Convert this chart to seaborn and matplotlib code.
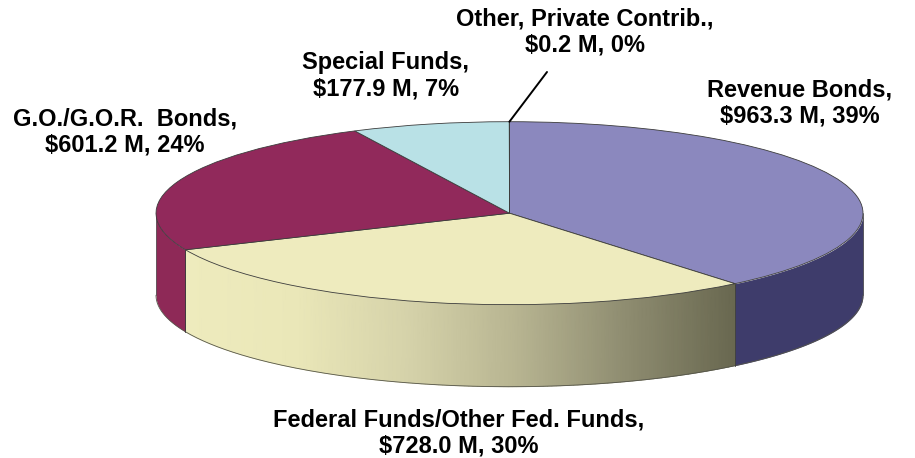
# %% import libraries
import numpy as np
import seaborn as sns
import matplotlib.pyplot as plt

# %% data
sources = ["Revenue Bonds", "Federal Funds", "G.O./G.O.R. Bonds", "Special Funds", "Other"]
amounts = [963.3, 728.0, 601.2, 177.9, 0.2]
labels = [
    "Revenue Bonds,\n$963.3 M, 39%",
    "Federal Funds/Other Fed. Funds,\n$728.0 M, 30%",
    "G.O./G.O.R.  Bonds,\n$601.2 M, 24%",
    "Special Funds,\n$177.9 M, 7%",
    "Other, Private Contrib.,\n$0.2 M, 0%",
]
label_x = [800, 459, 125, 386, 585]
label_y = [103, 433, 132, 76, 32]
top_colors = ["#8B88BE", "#EEEBBE", "#91295B", "#B9E1E6", "#7F7DB5"]
side_colors = ["#3E3C6B", "#EDEABB", "#8E2957", "#8FB4BA", "#3E3C6B"]
fed_gradient = ["#EEEBBD", "#EAE7B8", "#D6D3AA", "#B8B592", "#8F8D71", "#696850"]

W, H = 915, 458
depth = 82 / 91.5

# %% figure
sns.set_theme(style="white")
plt.rcParams["font.family"] = ["Liberation Sans", "DejaVu Sans"]

fig = plt.figure(figsize=(W / 100, H / 100), dpi=100, facecolor="white")
ax = fig.add_axes([156 / W, 1 - 304.7 / H, 707 / W, 183 / H])

# %% top of the pie
wedges, _ = ax.pie(
    amounts,
    colors=top_colors,
    startangle=90,
    counterclock=False,
    radius=1,
    wedgeprops={"edgecolor": "#3c3c3c", "linewidth": 0.6, "zorder": 3, "clip_on": False},
)
ax.set_aspect("auto")
ax.set_xlim(-1, 1)
ax.set_ylim(-1, 1)

# %% side wall, only the part facing the viewer
edges = 90 - np.cumsum([0] + amounts) / sum(amounts) * 360
for i in range(len(amounts)):
    hi, lo = edges[i], edges[i + 1]
    # keep the lower half of the ellipse
    hi_v, lo_v = min(hi, 0), max(lo, -180)
    if hi_v <= lo_v:
        continue
    t = np.radians(np.linspace(hi_v, lo_v, 150))
    x, y = np.cos(t), np.sin(t)
    if sources[i] == "Federal Funds":
        X = np.vstack([x, x])
        Y = np.vstack([y, y - depth])
        cmap = sns.blend_palette(fed_gradient, as_cmap=True)
        ax.pcolormesh(X, Y, X, cmap=cmap, shading="gouraud", zorder=1, clip_on=False)
    else:
        ax.fill_between(x, y, y - depth, color=side_colors[i], lw=0, zorder=1, clip_on=False)
    ax.plot(x, y - depth, color="#55554a", lw=0.6, zorder=2, clip_on=False)
    for end in (0, -1):
        ax.plot([x[end], x[end]], [y[end], y[end] - depth], color="#3c3c3c", lw=0.5,
                zorder=2, clip_on=False)

# %% labels
for text, px, py in zip(labels, label_x, label_y):
    fig.text(px / W, 1 - py / H, text, ha="center", va="center", fontsize=17,
             fontweight="bold", color="black", linespacing=1.2)

# %% leader line to the smallest slice
mid = np.radians((edges[-2] + edges[-1]) / 2)
ax.annotate(
    "",
    xy=(np.cos(mid), np.sin(mid)),
    xytext=(547 / W, 1 - 72 / H),
    textcoords="figure fraction",
    arrowprops={"arrowstyle": "-", "color": "black", "lw": 1.4, "shrinkA": 0, "shrinkB": 0},
    annotation_clip=False,
    zorder=5,
)

fig.savefig("out.png", dpi=100, facecolor="white")
